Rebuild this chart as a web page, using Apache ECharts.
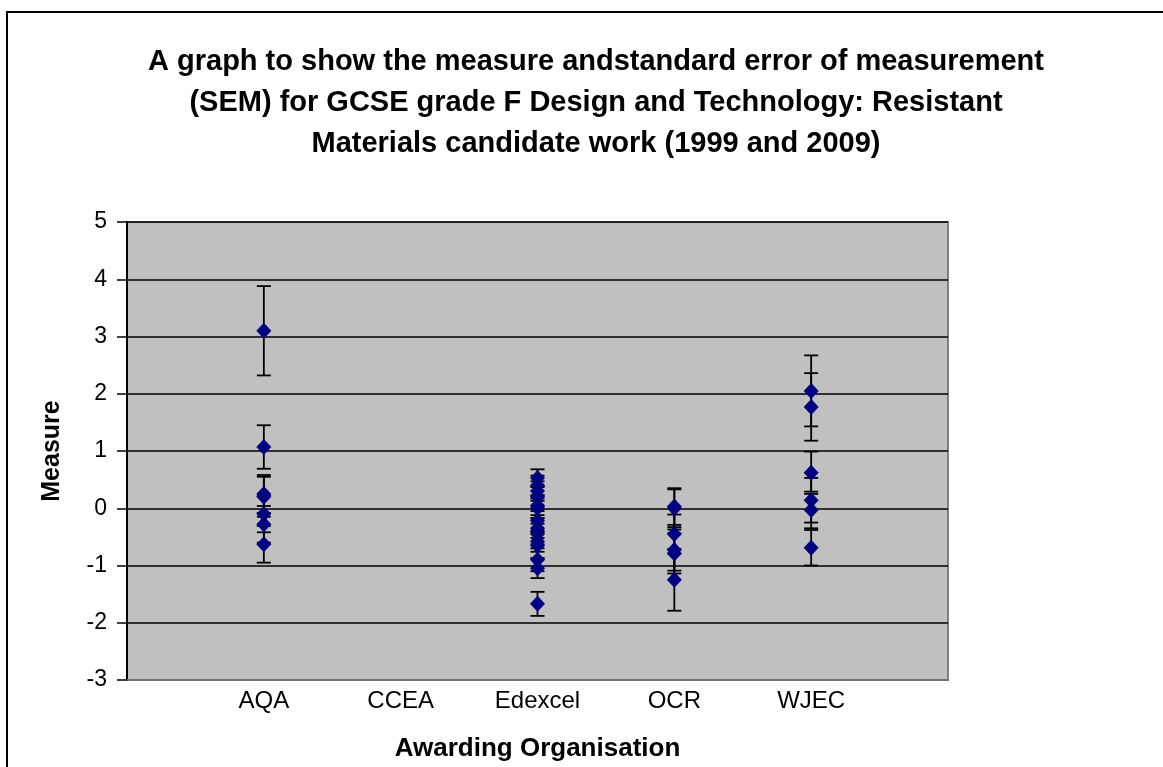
<!DOCTYPE html>
<html>
<head>
<meta charset="utf-8">
<script src="https://cdn.jsdelivr.net/npm/echarts@6/dist/echarts.min.js"></script>
<style>
  html, body { margin: 0; padding: 0; background: #fff; }
  #chart { width: 1163px; height: 767px; }
</style>
</head>
<body>
<div id="chart"></div>
<script>
// Awarding organisations (x positions 1..5)
const orgs = ['AQA', 'CCEA', 'Edexcel', 'OCR', 'WJEC'];
const yTicks = [-3, -2, -1, 0, 1, 2, 3, 4, 5];

// Measures and SEM
const aqaMeasure = [3.10, 1.07, 0.25, 0.20, -0.10, -0.28, -0.63];
const aqaSem = [0.78, 0.38, 0.33, 0.35, 0.32, 0.32, 0.32];

const ccaeMeasure = [];
const ccaeSem = [];

const edexcelMeasure = [0.53, 0.40, 0.30, 0.20, 0.05, 0.00, -0.22, -0.35, -0.45, -0.58, -0.65, -0.90, -1.05, -1.67];
const edexcelSem = [0.15, 0.17, 0.17, 0.17, 0.17, 0.17, 0.17, 0.17, 0.18, 0.18, 0.22, 0.20, 0.17, 0.21];

const ocrMeasure = [0.03, 0.00, -0.45, -0.73, -0.79, -1.25];
const ocrSem = [0.32, 0.33, 0.34, 0.36, 0.35, 0.54];

const wjecMeasure = [2.05, 1.77, 0.62, 0.14, -0.03, -0.69];
const wjecSem = [0.62, 0.59, 0.37, 0.39, 0.32, 0.31];

// Build [x, measure, sem] rows
function rows(xPos, measures, sems) {
    return measures.map((m, i) => [xPos, m, sems[i]]);
}
const allRows = [].concat(
    rows(1, aqaMeasure, aqaSem),
    rows(2, ccaeMeasure, ccaeSem),
    rows(3, edexcelMeasure, edexcelSem),
    rows(4, ocrMeasure, ocrSem),
    rows(5, wjecMeasure, wjecSem)
);

const font = "Arial, 'Liberation Sans', sans-serif";
const chart = echarts.init(document.getElementById('chart'));

chart.setOption({
    animation: false,
    title: {
        text: 'A graph to show the measure andstandard error of measurement\n(SEM) for GCSE grade F Design and Technology: Resistant\nMaterials candidate work (1999 and 2009)',
        left: 591,
        top: 36,
        textAlign: 'center',
        textStyle: {
            fontFamily: font,
            fontSize: 29,
            fontWeight: 'bold',
            color: '#000',
            lineHeight: 41
        }
    },
    graphic: [{
        type: 'rect',
        shape: { x: 7, y: 12, width: 1200, height: 800 },
        style: { fill: 'none', stroke: '#000', lineWidth: 2 },
        silent: true
    }],
    grid: {
        left: 127,
        top: 222,
        right: 215,
        bottom: 86,
        show: true,
        backgroundColor: '#c0c0c0',
        borderColor: '#808080',
        borderWidth: 2
    },
    xAxis: {
        type: 'value',
        min: 0,
        max: 6,
        interval: 1,
        name: 'Awarding Organisation',
        nameLocation: 'middle',
        nameGap: 56,
        nameTextStyle: { fontFamily: font, fontSize: 26, fontWeight: 'bold', color: '#000' },
        axisLine: { onZero: false, lineStyle: { color: '#707070', width: 2 } },
        axisTick: { show: false },
        splitLine: { show: false },
        axisLabel: {
            fontFamily: font,
            fontSize: 24,
            color: '#000',
            margin: 9,
            formatter: v => orgs[v - 1] || ''
        }
    },
    yAxis: {
        type: 'value',
        min: yTicks[0],
        max: yTicks[yTicks.length - 1],
        interval: 1,
        name: 'Measure',
        nameLocation: 'middle',
        nameRotate: 90,
        nameGap: 62,
        nameTextStyle: { fontFamily: font, fontSize: 25, fontWeight: 'bold', color: '#000' },
        axisLine: { show: true, onZero: false, lineStyle: { color: '#000', width: 2 } },
        axisTick: { show: true, length: 10, lineStyle: { color: '#000', width: 1.5 } },
        splitLine: { lineStyle: { color: '#000', width: 1.5 } },
        axisLabel: { fontFamily: font, fontSize: 23, color: '#000', margin: 20 }
    },
    series: [
        {
            name: 'SEM',
            type: 'custom',
            data: allRows,
            z: 3,
            renderItem: function (params, api) {
                const x = api.value(0);
                const m = api.value(1);
                const s = api.value(2);
                const top = api.coord([x, m + s]);
                const bot = api.coord([x, m - s]);
                const hw = 7;
                const style = { stroke: '#000', lineWidth: 1.8 };
                return {
                    type: 'group',
                    children: [
                        { type: 'line', shape: { x1: top[0], y1: top[1], x2: bot[0], y2: bot[1] }, style: style },
                        { type: 'line', shape: { x1: top[0] - hw, y1: top[1], x2: top[0] + hw, y2: top[1] }, style: style },
                        { type: 'line', shape: { x1: bot[0] - hw, y1: bot[1], x2: bot[0] + hw, y2: bot[1] }, style: style }
                    ]
                };
            }
        },
        {
            name: 'Measure',
            type: 'scatter',
            data: allRows.map(r => [r[0], r[1]]),
            symbol: 'diamond',
            symbolSize: [15, 16],
            z: 4,
            itemStyle: { color: '#000080', opacity: 1 }
        }
    ]
});
</script>
</body>
</html>
